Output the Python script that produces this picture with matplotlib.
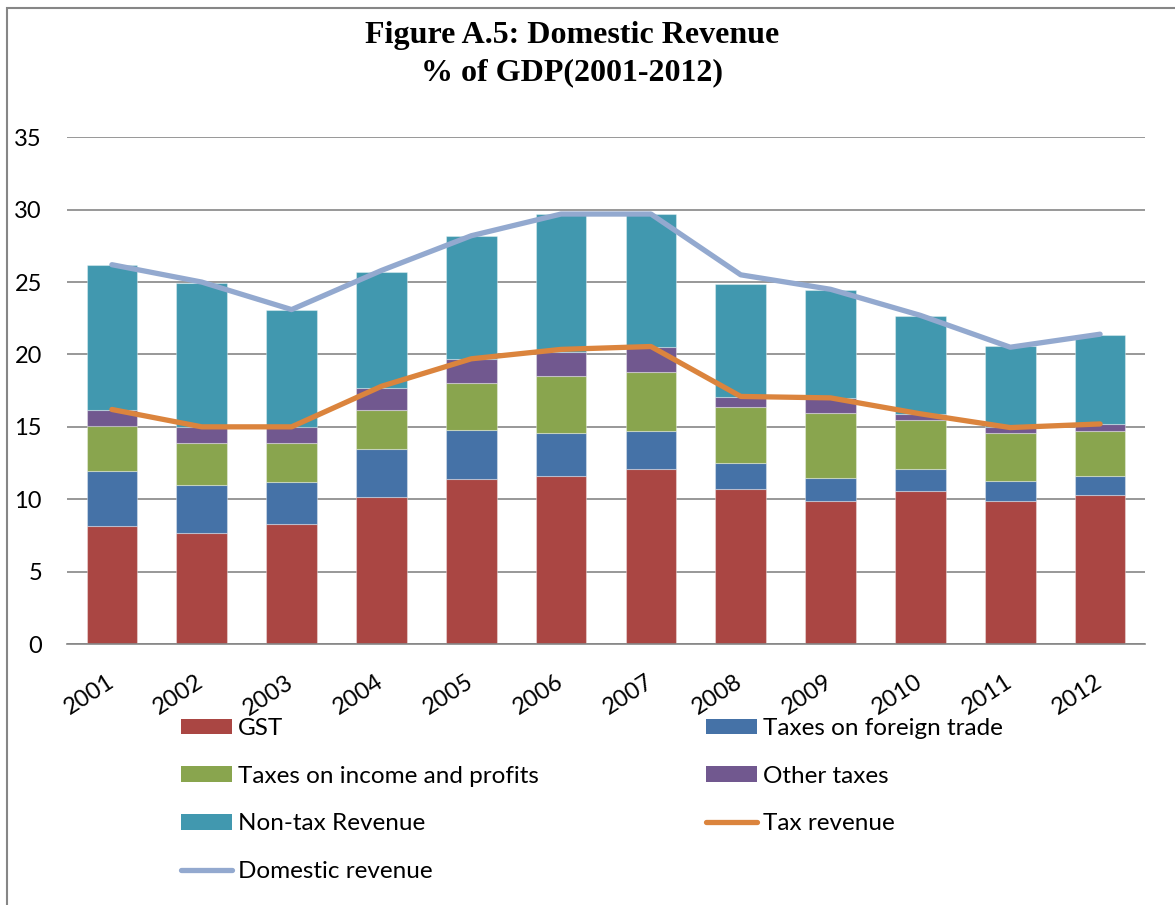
import matplotlib
matplotlib.use("Agg")
import matplotlib.pyplot as plt
import numpy as np
from matplotlib.patches import Rectangle, Patch
from matplotlib.lines import Line2D

years = ["2001", "2002", "2003", "2004", "2005", "2006",
         "2007", "2008", "2009", "2010", "2011", "2012"]
gst = [8.17, 7.68, 8.28, 10.17, 11.39, 11.57, 12.06, 10.69, 9.87, 10.57, 9.87, 10.27]
foreign_trade = [3.80, 3.29, 2.90, 3.29, 3.37, 2.99, 2.62, 1.79, 1.59, 1.52, 1.38, 1.30]
income_profits = [3.10, 2.91, 2.70, 2.71, 3.24, 3.92, 4.10, 3.90, 4.52, 3.36, 3.33, 3.13]
other_taxes = [1.10, 1.10, 1.10, 1.49, 1.68, 1.68, 1.71, 0.70, 0.98, 0.44, 0.40, 0.47]
non_tax = [10.01, 9.99, 8.10, 8.03, 8.49, 9.52, 9.19, 7.79, 7.52, 6.79, 5.60, 6.20]
tax_revenue = [16.2, 15.0, 15.0, 17.8, 19.7, 20.35, 20.55, 17.1, 17.0, 15.9, 14.95, 15.2]
domestic_revenue = [26.2, 25.0, 23.1, 25.8, 28.2, 29.7, 29.7, 25.5, 24.5, 22.7, 20.5, 21.4]
yticks = [0, 5, 10, 15, 20, 25, 30, 35]

title_lines = ["Figure A.5: Domestic Revenue", "% of GDP(2001-2012)"]

bar_series = [
    ("GST", gst, "#AA4643"),
    ("Taxes on foreign trade", foreign_trade, "#4572A7"),
    ("Taxes on income and profits", income_profits, "#89A54E"),
    ("Other taxes", other_taxes, "#71588F"),
    ("Non-tax Revenue", non_tax, "#4198AF"),
]
line_series = [
    ("Tax revenue", tax_revenue, "#DB843D"),
    ("Domestic revenue", domestic_revenue, "#93A9CF"),
]

FONT = "Lato"
W, H = 1175, 905
fig = plt.figure(figsize=(W / 100, H / 100), dpi=100)

def fx(px):
    return px / W

def fy(py):
    return 1 - py / H

ax = fig.add_axes([fx(67), fy(644), fx(1145) - fx(67), fy(137.3) - fy(644)])

x = np.arange(len(years))
bottom = np.zeros(len(years))
handles = {}
for name, vals, col in bar_series:
    ax.bar(x, vals, width=0.565, bottom=bottom, color=col,
           edgecolor=(1, 1, 1, 0.35), linewidth=0.8, zorder=2)
    bottom += np.array(vals)
    handles[name] = Patch(facecolor=col, edgecolor="none")

for name, vals, col in line_series:
    ax.plot(x, vals, color=col, linewidth=3.8, solid_capstyle="round",
            solid_joinstyle="round", zorder=3)
    handles[name] = Line2D([0], [0], color=col, linewidth=3.8,
                           solid_capstyle="round")

ax.set_xlim(-0.5, len(years) - 0.5)
ax.set_ylim(0, 35)
ax.set_yticks(yticks)
ax.set_yticklabels([str(v) for v in yticks], fontsize=17, family=FONT)
ax.set_xticks(x)
ax.set_xticklabels(years, fontsize=17, family=FONT, rotation=33,
                   ha="right", va="center", rotation_mode="anchor")
ax.tick_params(axis="y", length=0, pad=18)
ax.tick_params(axis="x", length=0, pad=26)
ax.grid(axis="y", color="#868686", linewidth=1.2, zorder=0)
ax.set_axisbelow(True)
for s in ["top", "right", "left"]:
    ax.spines[s].set_visible(False)
ax.spines["bottom"].set_color("#868686")
ax.spines["bottom"].set_linewidth(1.2)

# title
fig.text(fx(572), fy(35), title_lines[0], ha="center", va="center",
         fontsize=23, fontweight="bold", family="Liberation Serif")
fig.text(fx(572), fy(73), title_lines[1], ha="center", va="center",
         fontsize=23, fontweight="bold", family="Liberation Serif")

# outer frame (only left & top visible)
fig.patches.append(Rectangle((fx(7), fy(915)), fx(1200), fy(8) - fy(915),
                             transform=fig.transFigure, fill=False,
                             edgecolor="#868686", linewidth=1.5))

legend_kw = dict(frameon=False, prop={"family": FONT, "size": 17.5},
                 handlelength=2.1, handleheight=0.6, handletextpad=0.25,
                 labelspacing=1.1, borderpad=0, borderaxespad=0,
                 loc="upper left")
col1 = ["GST", "Taxes on income and profits", "Non-tax Revenue", "Domestic revenue"]
col2 = ["Taxes on foreign trade", "Other taxes", "Tax revenue"]
fig.legend([handles[n] for n in col1], col1,
           bbox_to_anchor=(fx(181), fy(718)), **legend_kw)
fig.legend([handles[n] for n in col2], col2,
           bbox_to_anchor=(fx(706), fy(718)), **legend_kw)

fig.savefig("out.png", dpi=100)
